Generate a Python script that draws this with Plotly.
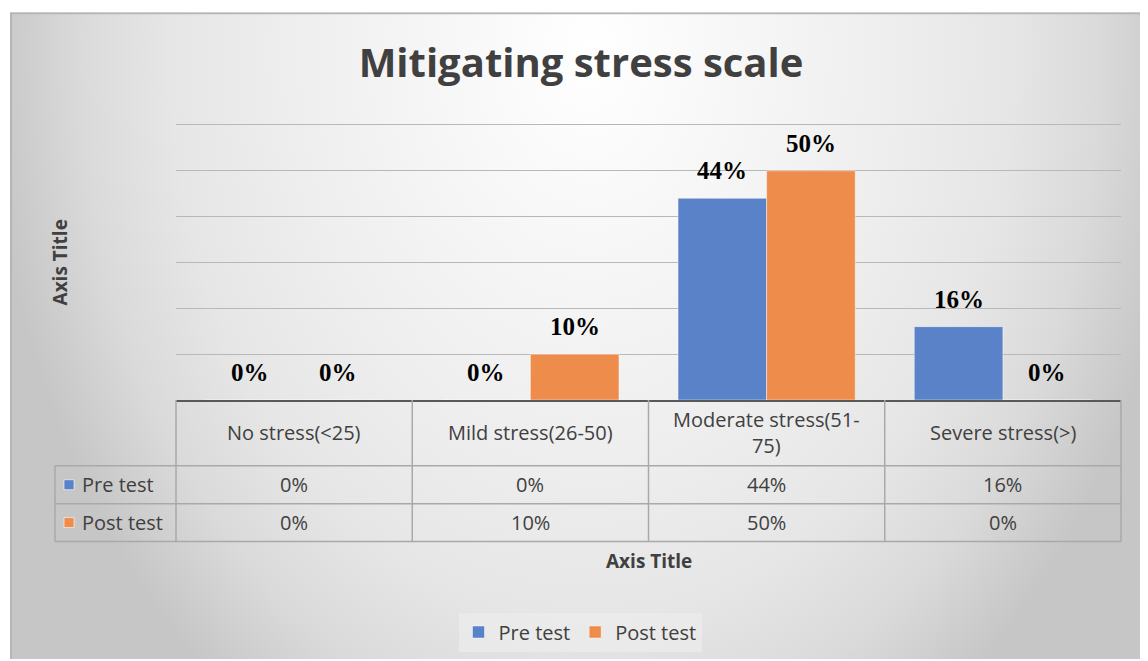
import base64
import plotly.graph_objects as go

# ---------------- data ----------------
categories = ["No stress(<25)", "Mild stress(26-50)", "Moderate stress(51-75)", "Severe stress(>)"]
category_labels = ["No stress(<25)", "Mild stress(26-50)", "Moderate stress(51-<br>75)", "Severe stress(>)"]
series_names = ["Pre test", "Post test"]
pre_test = [0.00, 0.00, 0.44, 0.16]
post_test = [0.00, 0.10, 0.50, 0.00]
colors = ["#5A82C8", "#EE8C4B"]
title_text = "Mitigating stress scale"
axis_title = "Axis Title"
y_grid_max = 0.6

# ---------------- layout geometry (window pixels) ----------------
WIN_W, WIN_H = 1148, 661
OFF = 8                      # default body margin of the html page
W, H = WIN_W - OFF, WIN_H - OFF
L, R, T, B = 176, 1121, 115, 401
GRID_TOP = 125               # pixel row of the top gridline
BARGAP = 0.25
y_max = y_grid_max * (B - T) / (B - GRID_TOP)


def px_x(X):
    return (X - L) / (R - L)


def px_y(Y):
    return (B - Y) / (B - T)


series = [pre_test, post_test]
n = len(categories)
cat_px = (R - L) / n
bar_px = cat_px * (1 - BARGAP) / len(series)

fig = go.Figure()
for name, vals, col in zip(series_names, series, colors):
    fig.add_trace(go.Bar(
        x=categories, y=vals, name=name,
        marker=dict(color=col, line=dict(color="rgba(255,255,255,0.45)", width=1)),
        hoverinfo="skip",
    ))

annotations = []
shapes = []

# data labels
for s, vals in enumerate(series):
    off = (s - (len(series) - 1) / 2) * bar_px
    for c, v in zip(categories, vals):
        annotations.append(dict(
            x=c, y=v, xref="x", yref="y", text=f"{v:.0%}", showarrow=False,
            xshift=off, yshift=12, yanchor="bottom", xanchor="center",
            font=dict(family="Liberation Serif", size=25, color="#000000", weight="bold"),
        ))

# table
grid_col = "#a9a9a9"
y_head = px_y(B)
y_rows = [px_y(467), px_y(505), px_y(543)]
x_left = px_x(55)
for i in range(n + 1):
    xb = i / n
    shapes.append(dict(type="line", xref="paper", yref="paper", x0=xb, x1=xb,
                       y0=y_head, y1=y_rows[-1], line=dict(color=grid_col, width=1.5)))
shapes.append(dict(type="line", xref="paper", yref="paper", x0=x_left, x1=x_left,
                   y0=y_rows[0], y1=y_rows[-1], line=dict(color=grid_col, width=1.5)))
for yr in y_rows:
    shapes.append(dict(type="line", xref="paper", yref="paper", x0=x_left, x1=1,
                       y0=yr, y1=yr, line=dict(color=grid_col, width=1.5)))

tfont = dict(family="Open Sans", size=20, color="#404040")
for i, lab in enumerate(category_labels):
    annotations.append(dict(x=(i + 0.5) / n, y=(y_head + y_rows[0]) / 2, xref="paper", yref="paper",
                            text=lab, showarrow=False, font=tfont, xanchor="center", yanchor="middle"))
for r, (name, vals, col) in enumerate(zip(series_names, series, colors)):
    yc = (y_rows[r] + y_rows[r + 1]) / 2
    for i, v in enumerate(vals):
        annotations.append(dict(x=(i + 0.5) / n, y=yc, xref="paper", yref="paper",
                                text=f"{v:.0%}", showarrow=False, font=tfont,
                                xanchor="center", yanchor="middle"))
    annotations.append(dict(x=px_x(80), y=yc, xref="paper", yref="paper", text=name,
                            showarrow=False, font=tfont, xanchor="left", yanchor="middle"))
    hh = 5 / (B - T)
    shapes.append(dict(type="rect", xref="paper", yref="paper", x0=px_x(64), x1=px_x(74),
                       y0=yc - hh, y1=yc + hh, fillcolor=col,
                       line=dict(color="rgba(255,255,255,0.6)", width=1)))

# axis titles
afont = dict(family="Open Sans", size=19, color="#404040", weight="bold")
annotations.append(dict(x=0.5, y=px_y(563), xref="paper", yref="paper", text=axis_title,
                        showarrow=False, font=afont, xanchor="center", yanchor="middle"))
annotations.append(dict(x=px_x(60), y=0.5 * (px_y(125) + px_y(401)), xref="paper", yref="paper",
                        text=axis_title, showarrow=False, font=afont, textangle=-90,
                        xanchor="center", yanchor="middle"))

# background (gradient chart area) as an inline svg image
svg = """<svg xmlns="http://www.w3.org/2000/svg" width="1138" height="649" viewBox="0 0 1138 649">
<defs><radialGradient id="g" gradientUnits="userSpaceOnUse" cx="580" cy="40" r="600"
 gradientTransform="translate(580 40) scale(1 1.35) translate(-580 -40)">
<stop offset="0" stop-color="#ffffff"/>
<stop offset="0.5" stop-color="#eeeeee"/>
<stop offset="0.7" stop-color="#e6e6e6"/>
<stop offset="0.85" stop-color="#dadada"/>
<stop offset="1" stop-color="#c6c6c6"/>
</radialGradient></defs>
<rect width="1138" height="649" fill="url(#g)"/>
<path d="M1,649 V1 H1138" stroke="#b5b5b5" stroke-width="2" fill="none"/>
</svg>"""
src = "data:image/svg+xml;base64," + base64.b64encode(svg.encode()).decode()

fig.update_layout(
    width=W, height=H,
    margin=dict(l=L - OFF, r=WIN_W - R, t=T - OFF, b=WIN_H - B),
    paper_bgcolor="#ffffff", plot_bgcolor="rgba(0,0,0,0)",
    barmode="group", bargap=BARGAP, bargroupgap=0,
    title=dict(text=title_text, x=(581 - OFF) / W, xref="container", xanchor="center",
               y=1 - (63 - OFF) / H, yanchor="middle",
               font=dict(family="Open Sans", size=40, color="#404040", weight="bold")),
    xaxis=dict(showticklabels=False, showline=True, linecolor="#595959", linewidth=2,
               showgrid=False, ticks=""),
    yaxis=dict(range=[0, y_max], tick0=0, dtick=0.1, showticklabels=False, showgrid=True,
               gridcolor="#b8b8b8", gridwidth=1, zeroline=False, showline=False, ticks=""),
    showlegend=True,
    legend=dict(orientation="h", x=px_x(580), xanchor="center", y=px_y(632), yanchor="middle",
                bgcolor="rgba(236,236,236,0.7)", font=dict(family="Open Sans", size=20, color="#404040"),
                itemclick=False, itemdoubleclick=False),
    annotations=annotations, shapes=shapes,
    images=[dict(source=src, xref="paper", yref="paper", x=px_x(10), y=px_y(12),
                 sizex=(WIN_W - 10) / (R - L), sizey=(WIN_H - 12) / (B - T), sizing="stretch",
                 xanchor="left", yanchor="top", layer="below")],
)

fig.write_html("out.html")
